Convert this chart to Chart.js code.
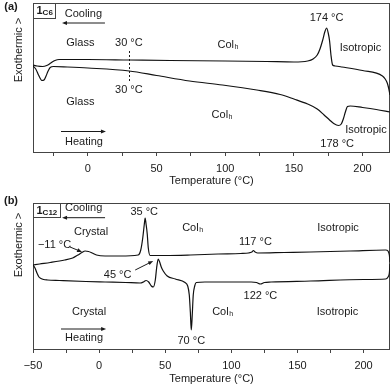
<!DOCTYPE html>
<html>
<head>
<meta charset="utf-8">
<script src="https://cdn.jsdelivr.net/npm/chart.js@4.4.1/dist/chart.umd.min.js"></script>
<style>
    html, body { margin: 0; padding: 0; background: #fff; }
    #wrap { position: relative; width: 392px; height: 388px; }
    canvas { position: absolute; left: 0; }
    #chartA { top: 0; }
    #chartB { top: 196px; }
</style>
</head>
<body>
<div id="wrap">
    <canvas id="chartA" width="392" height="196"></canvas>
    <canvas id="chartB" width="392" height="192"></canvas>
</div>
<script>
// ============================================
// DATA (temperature in °C, heat flow in arbitrary units)
// ============================================

// (a) 1C6
const coolTempA = [-40, -37, -33, -30, -27, -24, -21, -18, 0, 30, 60, 100, 130, 150, 160, 164, 167, 169, 171, 172.5, 173.8, 175, 176, 177, 178.2, 180, 185, 200, 214.5, 216.5, 218, 219, 220];
const coolFlowA = [88, 87, 86.5, 87.5, 90, 92.5, 93.5, 93.5, 93.5, 93, 92.5, 92, 91.5, 91, 92, 94, 98, 104, 113, 121, 125, 120, 112, 98, 88, 87, 86, 82.5, 77, 74, 70, 65, 58];
const heatTempA = [-40, -38, -36, -34.5, -33.5, -32, -30.5, -29, -27.5, -25, -15, 0, 30, 50, 74, 98, 123, 140, 150, 160, 167, 172, 176, 179, 182.5, 184.5, 186, 187.5, 189, 191, 200, 210, 220];
const heatFlowA = [87, 84, 78, 74, 72.5, 73, 77, 82, 85.5, 86.5, 86, 85, 82, 77.5, 72, 68, 63, 58.5, 54, 49, 44, 38, 33, 29.5, 27.5, 29, 34, 41, 46.5, 47, 45.5, 43.5, 41];
const ticksA = [-25, 0, 25, 50, 75, 100, 125, 150, 175, 200];

// (b) 1C12
const coolTempB = [-50, -45, -37, -26, -20, -16, -13, -10.6, -8, -5.3, -2, 4.5, 16, 29.5, 31.5, 33, 34.2, 34.8, 35.5, 36.4, 37.2, 38.6, 50, 69, 90, 107, 113, 115.5, 116.7, 118, 120, 140, 160, 190, 216.7, 218.5, 219.5, 220];
const coolFlowB = [85, 86, 87.5, 90, 92, 95, 97.5, 99, 98.5, 97, 95, 94, 94, 95, 100, 112, 126, 132, 126, 116, 102, 94.5, 94.5, 95, 96, 96.5, 97, 98, 99.5, 98, 97, 97.5, 98, 99, 100, 99, 95, 88];
const heatTempB = [-50, -48.5, -47, -45.5, -44, -42, -39, -30, -10, 4.5, 20, 31, 33.5, 35.5, 37.5, 39.5, 41, 42.5, 43.5, 44.7, 45.8, 47, 48.5, 51.5, 57.6, 65, 67, 68.2, 69, 69.7, 70.4, 71.2, 72.3, 73.5, 80, 99, 115, 119, 122, 125, 130, 160, 200, 216.7, 218.5, 219.5, 220];
const heatFlowB = [85, 82, 77, 73, 71.5, 70.5, 70, 69.5, 68.5, 68, 67.5, 67, 68, 69.5, 68, 64, 63, 70, 82, 91, 88, 83, 79, 74, 71, 67.5, 64, 55, 38, 20, 34, 55, 64, 67.5, 68, 68, 68, 67.5, 66, 67.5, 68, 69, 70.5, 71, 73, 77, 86];
const ticksB = [-50, -25, 0, 25, 50, 75, 100, 125, 150, 175, 200];

// ============================================
// ANNOTATIONS (placed in data coordinates)
// ============================================

const notesA = [
    { text: 'Cooling', t: -3.3, q: 139 },
    { text: 'Glass', t: -5.5, q: 110.5 },
    { text: '30 °C', t: 29.8, q: 110 },
    { text: '30 °C', t: 29.8, q: 63 },
    { text: 'Glass', t: -5.5, q: 51.5 },
    { text: 'Col', sub: 'h', t: 101.8, q: 108 },
    { text: '174 °C', t: 173.8, q: 135 },
    { text: 'Isotropic', t: 198.5, q: 105 },
    { text: 'Col', sub: 'h', t: 97.5, q: 38 },
    { text: 'Isotropic', t: 202.5, q: 23 },
    { text: '178 °C', t: 181.5, q: 9 },
    { text: 'Heating', t: -2.9, q: 11.5 }
];
const arrowsA = [
    { from: [12.4, 130], to: [-18.9, 130] },
    { from: [-19.6, 21.5], to: [13.1, 21.5] }
];
const dotsA = [{ t: 30, q1: 102, q2: 72 }];

const notesB = [
    { text: 'Cooling', t: -11.7, q: 142 },
    { text: '35 °C', t: 34.1, q: 138 },
    { text: 'Crystal', t: -6.1, q: 118 },
    { text: '\u221211 °C', t: -33.7, q: 105 },
    { text: '45 °C', t: 14, q: 75 },
    { text: 'Col', sub: 'h', t: 70.5, q: 122 },
    { text: '117 °C', t: 118.2, q: 108 },
    { text: 'Isotropic', t: 180.7, q: 122 },
    { text: '122 °C', t: 122, q: 54 },
    { text: 'Crystal', t: -7.6, q: 38 },
    { text: 'Col', sub: 'h', t: 93.2, q: 38 },
    { text: 'Isotropic', t: 180.3, q: 38 },
    { text: 'Heating', t: -11.4, q: 12 },
    { text: '70 °C', t: 69.7, q: 9 }
];
const arrowsB = [
    { from: [4.5, 132.3], to: [-28, 132.3] },
    { from: [-22, 103], to: [-12.9, 98] },
    { from: [27.3, 80], to: [40.9, 89] },
    { from: [-28.8, 21], to: [5.3, 21] }
];

const FONT = '"Liberation Sans", Arial, sans-serif';
const INK = '#1a1a1a';

Chart.defaults.font.family = FONT;
Chart.defaults.font.size = 11;
Chart.defaults.color = INK;

// ============================================
// PANEL PLUGIN (frame, labels, arrows)
// ============================================

function drawArrow(ctx, x1, y1, x2, y2) {
    const ang = Math.atan2(y2 - y1, x2 - x1);
    ctx.beginPath();
    ctx.moveTo(x1, y1);
    ctx.lineTo(x2 - 4 * Math.cos(ang), y2 - 4 * Math.sin(ang));
    ctx.stroke();
    ctx.beginPath();
    ctx.moveTo(x2, y2);
    ctx.lineTo(x2 - 5 * Math.cos(ang) + 2 * Math.sin(ang), y2 - 5 * Math.sin(ang) - 2 * Math.cos(ang));
    ctx.lineTo(x2 - 5 * Math.cos(ang) - 2 * Math.sin(ang), y2 - 5 * Math.sin(ang) + 2 * Math.cos(ang));
    ctx.closePath();
    ctx.fill();
}

const panelPlugin = {
    id: 'panel',
    beforeDatasetsDraw(chart) {
        const { ctx, chartArea: a } = chart;
        ctx.save();
        ctx.strokeStyle = '#444';
        ctx.lineWidth = 1;
        ctx.strokeRect(Math.round(a.left) + 0.5, Math.round(a.top) + 0.5,
            Math.round(a.right) - Math.round(a.left) - 1, Math.round(a.bottom) - Math.round(a.top) - 1);
        ctx.restore();
    },
    afterDraw(chart) {
        const p = chart.options.plugins.panel;
        const { ctx, chartArea: a } = chart;
        const px = t => chart.scales.x.getPixelForValue(t);
        const py = q => chart.scales.y.getPixelForValue(q);

        ctx.save();
        ctx.fillStyle = INK;
        ctx.strokeStyle = INK;
        ctx.textBaseline = 'middle';

        // text labels
        p.notes.forEach(n => {
            const x = px(n.t), y = py(n.q);
            if (n.sub) {
                ctx.font = '11px ' + FONT;
                const w1 = ctx.measureText(n.text).width;
                ctx.font = '7px ' + FONT;
                const w2 = ctx.measureText(n.sub).width;
                const x0 = x - (w1 + w2) / 2;
                ctx.textAlign = 'left';
                ctx.font = '11px ' + FONT;
                ctx.fillText(n.text, x0, y);
                ctx.font = '7px ' + FONT;
                ctx.fillText(n.sub, x0 + w1 + 0.5, y + 2.5);
            } else {
                ctx.font = '11px ' + FONT;
                ctx.textAlign = 'center';
                ctx.fillText(n.text, x, y);
            }
        });

        // arrows
        ctx.lineWidth = 1;
        p.arrows.forEach(ar => drawArrow(ctx, px(ar.from[0]), py(ar.from[1]), px(ar.to[0]), py(ar.to[1])));

        // dotted guides
        ctx.setLineDash([2, 2]);
        (p.dots || []).forEach(d => {
            const x = Math.round(px(d.t)) + 0.5;
            ctx.beginPath();
            ctx.moveTo(x, py(d.q1));
            ctx.lineTo(x, py(d.q2));
            ctx.stroke();
        });
        ctx.setLineDash([]);

        // compound tag box (1 + subscript)
        ctx.font = 'bold 11px ' + FONT;
        const wMain = ctx.measureText('1').width;
        ctx.font = 'bold 8px ' + FONT;
        const wSub = ctx.measureText(p.tag).width;
        const bx = Math.round(a.left) + 0.5, by = Math.round(a.top) + 0.5;
        const bw = Math.round(wMain + wSub + 6), bh = p.tagH;
        ctx.strokeStyle = '#444';
        ctx.strokeRect(bx, by, bw, bh);
        ctx.textAlign = 'left';
        ctx.font = 'bold 11px ' + FONT;
        ctx.fillText('1', bx + 3, by + bh / 2);
        ctx.font = 'bold 8px ' + FONT;
        ctx.fillText(p.tag, bx + 3 + wMain, by + bh / 2 + 2);

        // panel letter
        ctx.font = 'bold 11px ' + FONT;
        ctx.textAlign = 'center';
        ctx.fillText(p.letter, 11, p.letterY);

        // y-axis title
        ctx.font = '11px ' + FONT;
        ctx.translate(19, p.yTitleY);
        ctx.rotate(-Math.PI / 2);
        ctx.fillText('Exothermic >', 0, 0);
        ctx.restore();
    }
};

// ============================================
// CHART BUILDER
// ============================================

function toPoints(ts, qs) {
    return ts.map((t, i) => ({ x: t, y: qs[i] }));
}

function makePanel(id, cfg) {
    return new Chart(document.getElementById(id), {
        type: 'line',
        data: {
            datasets: [
                { label: 'Cooling', data: toPoints(cfg.coolT, cfg.coolQ) },
                { label: 'Heating', data: toPoints(cfg.heatT, cfg.heatQ) }
            ]
        },
        options: {
            responsive: false,
            animation: false,
            devicePixelRatio: 1,
            layout: { padding: { left: 33, right: 2, top: cfg.top, bottom: 0 } },
            elements: {
                point: { radius: 0 },
                line: { borderColor: '#111', borderWidth: 1.2, cubicInterpolationMode: 'monotone' }
            },
            plugins: {
                legend: { display: false },
                tooltip: { enabled: false },
                panel: cfg.panel
            },
            scales: {
                x: {
                    type: 'linear',
                    min: cfg.xMin,
                    max: 220,
                    afterBuildTicks: s => { s.ticks = cfg.ticks.map(v => ({ value: v })); },
                    afterFit: s => { s.height = cfg.axisH; },
                    ticks: {
                        autoSkip: false,
                        maxRotation: 0,
                        padding: 6,
                        color: INK,
                        callback: v => (v % 50 === 0 ? String(v).replace('-', '\u2212') : '')
                    },
                    grid: { drawOnChartArea: false, tickLength: 3, color: '#444' },
                    border: { display: false },
                    title: {
                        display: true,
                        text: 'Temperature (°C)',
                        color: INK,
                        padding: { top: 0, bottom: cfg.titlePad }
                    }
                },
                y: { type: 'linear', display: false, min: 0, max: cfg.yMax }
            }
        },
        plugins: [panelPlugin]
    });
}

makePanel('chartA', {
    coolT: coolTempA, coolQ: coolFlowA, heatT: heatTempA, heatQ: heatFlowA,
    ticks: ticksA, xMin: -40, yMax: 150, top: 3, axisH: 43, titlePad: 8,
    panel: { notes: notesA, arrows: arrowsA, dots: dotsA, tag: 'C6', tagH: 15, letter: '(a)', letterY: 7, yTitleY: 50 }
});

makePanel('chartB', {
    coolT: coolTempB, coolQ: coolFlowB, heatT: heatTempB, heatQ: heatFlowB,
    ticks: ticksB, xMin: -50, yMax: 147, top: 7, axisH: 38, titlePad: 2,
    panel: { notes: notesB, arrows: arrowsB, dots: [], tag: 'C12', tagH: 14, letter: '(b)', letterY: 5, yTitleY: 49 }
});
</script>
</body>
</html>
